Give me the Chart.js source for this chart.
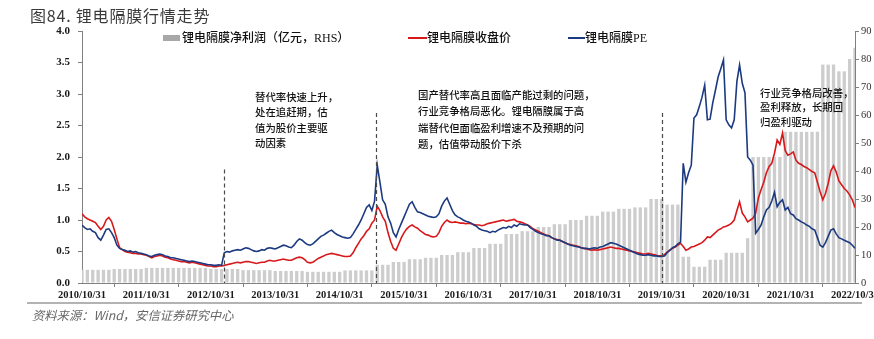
<!DOCTYPE html>
<html>
<head>
<meta charset="utf-8">
<script src="https://cdn.jsdelivr.net/npm/chart.js@4/dist/chart.umd.min.js"></script>
<style>
  html, body { margin: 0; padding: 0; background: #ffffff; }
  #wrap { width: 874px; height: 339px; position: relative; }
</style>
</head>
<body>
<div id="wrap"><canvas id="c" width="874" height="339"></canvas></div>
<script>
// x positions are months after 2010/10/31; lines are sampled twice a month, bars monthly
const xTickLabels = ['2010/10/31','2011/10/31','2012/10/31','2013/10/31','2014/10/31','2015/10/31',
  '2016/10/31','2017/10/31','2018/10/31','2019/10/31','2020/10/31','2021/10/31','2022/10/31'];

// 锂电隔膜收盘价 (left axis)
const closePrice = [
  1.10,1.05, 1.02,1.00, 0.98,0.96, 0.90,0.85, 0.90,1.00, 1.04,0.98, 0.85,0.70, 0.56,0.53, 0.50,0.49, 0.48,0.47,
  0.47,0.46, 0.46,0.45, 0.44,0.42, 0.40,0.42, 0.43,0.44, 0.43,0.41, 0.40,0.38, 0.37,0.36, 0.35,0.34, 0.34,0.33,
  0.32,0.33, 0.32,0.31, 0.30,0.29, 0.28,0.27, 0.27,0.26, 0.26,0.27, 0.27,0.28, 0.29,0.30, 0.31,0.32, 0.33,0.32,
  0.33,0.34, 0.34,0.33, 0.32,0.31, 0.32,0.33, 0.33,0.35, 0.36,0.35, 0.35,0.36, 0.37,0.38, 0.37,0.36, 0.36,0.38,
  0.40,0.41, 0.40,0.37, 0.33,0.32, 0.33,0.36, 0.39,0.41, 0.43,0.45, 0.46,0.47, 0.46,0.45, 0.44,0.43, 0.42,0.42,
  0.43,0.48, 0.56,0.63, 0.70,0.75, 0.82,0.86, 0.95,1.00, 1.22,1.15, 1.05,0.98, 0.80,0.66, 0.55,0.52, 0.62,0.72,
  0.80,0.86, 0.90,0.92, 0.89,0.87, 0.83,0.80, 0.77,0.76, 0.74,0.73, 0.74,0.80, 0.90,0.96, 1.00,0.97, 0.96,0.97,
  0.96,0.95, 0.95,0.94, 0.95,0.94, 0.93,0.92, 0.92,0.91, 0.92,0.94, 0.95,0.96, 0.97,0.98, 0.99,1.00, 0.98,0.99,
  1.00,1.01, 0.98,0.97, 0.96,0.94, 0.92,0.90, 0.86,0.84, 0.82,0.80, 0.78,0.76, 0.75,0.72, 0.70,0.69, 0.68,0.66,
  0.64,0.62, 0.61,0.60, 0.59,0.58, 0.56,0.55, 0.54,0.53, 0.52,0.53, 0.52,0.53, 0.54,0.55, 0.56,0.57, 0.56,0.55,
  0.55,0.54, 0.53,0.52, 0.51,0.50, 0.49,0.48, 0.47,0.46, 0.46,0.47, 0.46,0.45, 0.44,0.43, 0.43,0.45, 0.49,0.52,
  0.55,0.57, 0.60,0.63, 0.58,0.52, 0.54,0.57, 0.58,0.60, 0.62,0.64, 0.68,0.73, 0.72,0.76, 0.80,0.84, 0.86,0.89,
  0.90,0.92, 0.95,1.00, 1.15,1.29, 1.11,1.05, 0.97,1.00, 1.03,1.11, 1.35,1.48, 1.60,1.75, 1.85,1.90, 2.06,2.27,
  2.20,2.38, 2.10,2.03, 2.05,2.08, 1.95,1.90, 1.88,1.85, 1.83,1.80, 1.77,1.75, 1.60,1.45, 1.32,1.42, 1.58,1.78,
  1.86,1.76, 1.62,1.56, 1.50,1.46, 1.40,1.32, 1.20
];

// 锂电隔膜PE (left axis)
const peRatio = [
  0.92,0.88, 0.85,0.86, 0.82,0.80, 0.72,0.68, 0.76,0.85, 0.86,0.80, 0.72,0.60, 0.55,0.53, 0.52,0.50, 0.51,0.49,
  0.50,0.48, 0.47,0.46, 0.45,0.43, 0.42,0.44, 0.45,0.46, 0.45,0.43, 0.42,0.40, 0.40,0.39, 0.38,0.37, 0.36,0.35,
  0.34,0.35, 0.34,0.33, 0.32,0.31, 0.30,0.29, 0.29,0.28, 0.28,0.29, 0.28,0.48, 0.50,0.49, 0.51,0.52, 0.53,0.52,
  0.54,0.56, 0.55,0.53, 0.51,0.50, 0.51,0.53, 0.52,0.55, 0.56,0.55, 0.54,0.56, 0.58,0.60, 0.59,0.57, 0.56,0.60,
  0.66,0.70, 0.68,0.64, 0.61,0.60, 0.62,0.66, 0.70,0.74, 0.76,0.79, 0.82,0.84, 0.80,0.77, 0.75,0.73, 0.72,0.71,
  0.72,0.78, 0.85,0.92, 1.00,1.10, 1.20,1.24, 1.15,1.30, 1.87,1.60, 1.32,1.25, 1.05,0.95, 0.80,0.73, 0.85,0.95,
  1.05,1.15, 1.25,1.29, 1.20,1.13, 1.12,1.10, 1.08,1.06, 1.05,1.04, 1.05,1.10, 1.22,1.30, 1.35,1.25, 1.15,1.08,
  1.05,1.03, 1.00,0.98, 0.97,0.95, 0.92,0.90, 0.86,0.84, 0.83,0.82, 0.80,0.82, 0.81,0.84, 0.86,0.88, 0.87,0.90,
  0.88,0.92, 0.90,0.94, 0.93,0.92, 0.92,0.88, 0.85,0.82, 0.80,0.78, 0.77,0.75, 0.75,0.72, 0.70,0.68, 0.68,0.66,
  0.64,0.62, 0.60,0.59, 0.58,0.57, 0.56,0.55, 0.55,0.54, 0.55,0.56, 0.55,0.57, 0.58,0.60, 0.62,0.64, 0.63,0.62,
  0.60,0.58, 0.56,0.54, 0.52,0.50, 0.48,0.46, 0.45,0.44, 0.44,0.45, 0.44,0.43, 0.43,0.42, 0.42,0.43, 0.48,0.52,
  0.56,0.58, 0.62,0.65, 1.90,1.60, 1.75,1.87, 2.62,2.67, 2.80,2.95, 3.14,2.59, 2.60,2.86, 3.06,3.27, 3.40,3.54,
  2.59,2.51, 2.46,2.59, 3.20,3.46, 3.17,3.02, 2.00,1.95, 1.87,0.79, 0.85,0.92, 1.05,1.16, 1.20,1.30, 1.44,1.21,
  1.28,1.32, 1.16,1.20, 1.10,1.08, 1.02,1.00, 0.97,0.95, 0.92,0.90, 0.86,0.84, 0.72,0.60, 0.57,0.64, 0.74,0.84,
  0.86,0.78, 0.72,0.70, 0.68,0.66, 0.64,0.60, 0.55
];

// 锂电隔膜净利润, 亿元 (right axis), one bar per month
const netProfit = [
  4.7,4.7,4.7,4.7,4.7,4.7, 5.0,5.0,5.0,5.0,5.0,5.0, 5.4,5.4,5.4,5.4,5.4,5.4, 5.4,5.4,5.4,5.4,5.4,5.4,
  5.0,5.0,5.0,5.0,5.0,5.0, 4.6,4.6,4.6,4.6,4.6,4.6, 4.3,4.3,4.3,4.3,4.3,4.3, 4.0,4.0,4.0,4.0,4.0,4.0,4.0,
  4.5,4.5,4.5,4.5,4.5,4.5, 6.5,6.5,6.5, 7.5,7.5,7.5, 8.5,8.5,8.5, 9.0,9.0,9.0, 10,10,10, 11,11,11,
  12.5,12.5,12.5, 14,14,14, 17.5,17.5,17.5, 18.5,18.5,18.5, 20,20,20, 21,21,21, 22.5,22.5,22.5, 24,24,24,
  25.5,25.5,25.5, 26.5,26.5,26.5, 27,27,27, 30,30,30, 28,28,28, 9.4,9.4, 5.8,5.8,5.8, 8.3,8.3,8.3, 10.8,10.8,10.8,10.8,
  16, 45,45,45,45,45,45, 54,54,54,54,54,54,54, 78,78,78, 75.6,75.6, 80, 84
];

// months after 2010/10/31 where the market phases change
const phaseMarks = [26.5, 54.8, 108];
const phaseTops = [1.8, 2.7, 2.7];

const phaseNotes = [
  ['替代率快速上升，', '处在追赶期，估', '值为股价主要驱', '动因素'],
  ['国产替代率高且面临产能过剩的问题，', '行业竞争格局恶化。锂电隔膜属于高', '端替代但面临盈利增速不及预期的问', '题，估值带动股价下杀'],
  ['行业竞争格局改善，', '盈利释放，长期回', '归盈利驱动']
];

const RED = '#d7191c';
const NAVY = '#1c3a80';
const BAR = '#cdcdcd';
const AXIS = '#808080';
const CJK = "'Noto Sans CJK SC'";
const SERIF = "'Liberation Serif'";

const pricePts = closePrice.map((v, i) => ({ x: i / 2, y: v }));
const pePts = peRatio.map((v, i) => ({ x: i / 2, y: v }));
const profitPts = netProfit.map((v, i) => ({ x: i, y: v }));

const decorations = {
  id: 'decorations',
  afterDatasetsDraw(chart) {
    const { ctx, scales } = chart;
    ctx.save();
    ctx.strokeStyle = '#4a4a4a';
    ctx.lineWidth = 1.2;
    ctx.setLineDash([4, 3]);
    phaseMarks.forEach((m, i) => {
      const x = Math.round(scales.x.getPixelForValue(m)) + 0.5;
      ctx.beginPath();
      ctx.moveTo(x, scales.y.getPixelForValue(phaseTops[i]));
      ctx.lineTo(x, scales.y.getPixelForValue(0));
      ctx.stroke();
    });
    ctx.restore();
  },
  afterDraw(chart) {
    const { ctx } = chart;
    ctx.save();
    // title
    ctx.fillStyle = '#3a3a3a';
    ctx.font = `16px ${CJK}`;
    ctx.letterSpacing = '0.8px';
    ctx.textBaseline = 'alphabetic';
    ctx.fillText('图84. 锂电隔膜行情走势', 30, 22);
    ctx.letterSpacing = '0px';

    // legend
    const ds = chart.data.datasets;
    ctx.textBaseline = 'middle';
    ctx.font = `500 12px ${SERIF}, ${CJK}`;
    ctx.fillStyle = '#a8a8a8';
    ctx.fillRect(163, 35, 17, 6);
    ctx.fillStyle = '#111';
    ctx.fillText(ds[2].label, 182, 38.5);
    ctx.lineWidth = 2;
    ctx.strokeStyle = RED;
    ctx.beginPath(); ctx.moveTo(408, 38); ctx.lineTo(427, 38); ctx.stroke();
    ctx.fillText(ds[1].label, 427, 38.5);
    ctx.strokeStyle = NAVY;
    ctx.beginPath(); ctx.moveTo(568, 38); ctx.lineTo(585, 38); ctx.stroke();
    ctx.fillText(ds[0].label, 585, 38.5);

    // phase notes
    ctx.font = `500 10.4px ${CJK}`;
    ctx.fillStyle = '#111';
    const noteLayout = [
      { x: 255, y: 97, dy: 15.5 },
      { x: 418, y: 95, dy: 16.3 },
      { x: 760, y: 93, dy: 14.5 }
    ];
    phaseNotes.forEach((lines, i) => {
      const L = noteLayout[i];
      lines.forEach((t, k) => ctx.fillText(t, L.x, L.y + k * L.dy));
    });

    // source line
    ctx.strokeStyle = '#9a9a9a';
    ctx.lineWidth = 1.5;
    ctx.beginPath(); ctx.moveTo(27, 303); ctx.lineTo(862, 303); ctx.stroke();
    ctx.fillStyle = '#666';
    ctx.font = `italic 12.3px ${CJK}`;
    ctx.fillText('资料来源：Wind，安信证券研究中心', 32, 315);
    ctx.restore();
  }
};

new Chart(document.getElementById('c'), {
  type: 'bar',
  data: {
    datasets: [
      { type: 'line', label: '锂电隔膜PE', data: pePts, yAxisID: 'y', borderColor: NAVY,
        borderWidth: 1.6, pointRadius: 0, tension: 0, order: 1 },
      { type: 'line', label: '锂电隔膜收盘价', data: pricePts, yAxisID: 'y', borderColor: RED,
        borderWidth: 1.6, pointRadius: 0, tension: 0, order: 2 },
      { type: 'bar', label: '锂电隔膜净利润（亿元，RHS）', data: profitPts, yAxisID: 'y1',
        backgroundColor: BAR, barPercentage: 0.62, categoryPercentage: 1, order: 3 }
    ]
  },
  options: {
    responsive: false,
    animation: false,
    events: [],
    layout: { padding: { top: 31, left: 0, right: 0, bottom: 0 } },
    plugins: { legend: { display: false }, tooltip: { enabled: false } },
    scales: {
      x: {
        type: 'linear', min: 0, max: 144, offset: false,
        grid: { display: true, drawOnChartArea: false, drawTicks: true, tickLength: 4, color: AXIS },
        border: { display: true, color: AXIS, width: 1 },
        ticks: {
          stepSize: 12, autoSkip: false, maxRotation: 0, minRotation: 0, padding: 2,
          color: '#1a1a1a', font: { family: SERIF, size: 10.5, weight: 'bold' },
          callback: (v) => xTickLabels[Math.round(v / 12)]
        },
        afterFit: (s) => { s.paddingLeft = 0; s.paddingRight = 0; s.height = 56; }
      },
      y: {
        position: 'left', min: 0, max: 4,
        grid: { display: true, drawOnChartArea: false, tickLength: 4, color: AXIS },
        border: { display: true, color: AXIS, width: 1 },
        ticks: { stepSize: 0.5, padding: 8, color: '#1a1a1a',
          font: { family: SERIF, size: 11, weight: 'bold' }, callback: (v) => v.toFixed(1) },
        afterFit: (s) => { s.width = 82; s.paddingTop = 0; s.paddingBottom = 0; }
      },
      y1: {
        position: 'right', min: 0, max: 90,
        grid: { display: true, drawOnChartArea: false, tickLength: 4, color: AXIS },
        border: { display: true, color: AXIS, width: 1 },
        ticks: { stepSize: 10, padding: 2, color: '#333',
          font: { family: SERIF, size: 10.5 } },
        afterFit: (s) => { s.width = 19; s.paddingTop = 0; s.paddingBottom = 0; }
      }
    }
  },
  plugins: [decorations]
});
</script>
</body>
</html>
